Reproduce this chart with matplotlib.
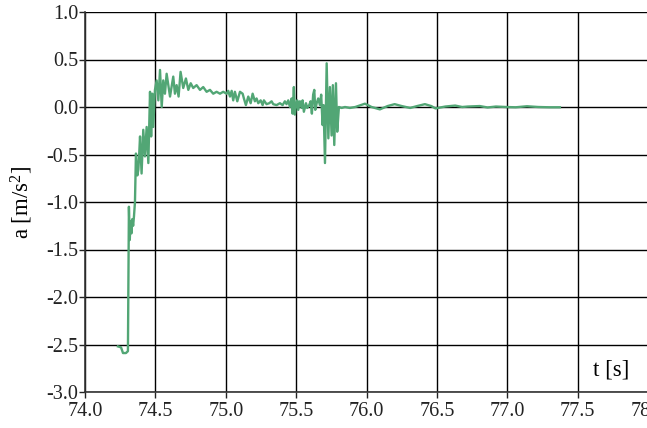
import matplotlib
matplotlib.use("Agg")
from matplotlib import pyplot as plt

# acceleration trace
t = [74.234, 74.256, 74.270, 74.291, 74.305, 74.312, 74.318, 74.324, 74.330, 74.336,
     74.342, 74.348, 74.355, 74.362, 74.372, 74.379, 74.385, 74.391, 74.402, 74.414,
     74.426, 74.438, 74.450, 74.462, 74.470, 74.478, 74.485, 74.497, 74.509, 74.521,
     74.533, 74.545, 74.556, 74.568, 74.580, 74.604, 74.627, 74.639, 74.651, 74.665,
     74.679, 74.698, 74.717, 74.734, 74.751, 74.769, 74.793, 74.817, 74.840, 74.864,
     74.888, 74.911, 74.935, 74.959, 74.982, 75.006, 75.018, 75.030, 75.042, 75.053,
     75.065, 75.082, 75.101, 75.120, 75.129, 75.143, 75.160, 75.177, 75.191, 75.207,
     75.219, 75.231, 75.248, 75.262, 75.271, 75.290, 75.309, 75.326, 75.337, 75.361,
     75.385, 75.404, 75.420, 75.432, 75.444, 75.456, 75.468, 75.475, 75.484, 75.491,
     75.499, 75.508, 75.515, 75.527, 75.539, 75.546, 75.555, 75.570, 75.579, 75.593,
     75.603, 75.612, 75.621, 75.629, 75.636, 75.646, 75.657, 75.669, 75.678, 75.688,
     75.695, 75.705, 75.717, 75.729, 75.740, 75.752, 75.761, 75.771, 75.783, 75.792,
     75.804, 75.823, 75.847, 75.882, 75.920, 75.960, 75.989, 76.036, 76.095, 76.150,
     76.200, 76.250, 76.310, 76.360, 76.415, 76.460, 76.490, 76.560, 76.630, 76.680,
     76.720, 76.805, 76.860, 76.920, 76.990, 77.060, 77.140, 77.220, 77.300, 77.374]
a = [-2.52, -2.53, -2.59, -2.59, -2.57, -1.05, -1.40, -1.20, -1.33, -1.18,
     -1.25, -1.15, -1.00, -0.49, -0.72, -0.66, -0.50, -0.31, -0.70, -0.24,
     -0.52, -0.21, -0.59, 0.16, -0.31, 0.14, -0.21, 0.18, 0.28, 0.07,
     0.39, 0.00, 0.28, 0.14, 0.35, 0.11, 0.32, 0.14, 0.23, 0.11,
     0.37, 0.20, 0.30, 0.18, 0.25, 0.20, 0.23, 0.18, 0.21, 0.16,
     0.18, 0.14, 0.16, 0.14, 0.16, 0.14, 0.17, 0.11, 0.17, 0.07,
     0.16, 0.06, 0.16, 0.14, 0.09, 0.02, 0.11, 0.04, 0.14, 0.06,
     0.09, 0.04, 0.07, 0.02, 0.07, 0.03, 0.04, 0.06, 0.03, 0.02,
     0.04, 0.02, 0.06, 0.03, 0.07, 0.00, 0.09, -0.07, 0.21, -0.08,
     0.02, 0.07, -0.03, 0.06, -0.01, 0.07, -0.05, 0.04, -0.01, 0.02,
     0.06, -0.07, 0.13, 0.18, -0.03, 0.04, 0.09, 0.02, 0.13, -0.19,
     0.02, -0.59, 0.46, -0.33, 0.21, -0.30, 0.23, -0.40, 0.25, -0.26,
     0.00, -0.01, 0.00, -0.01, 0.00, 0.02, 0.035, 0.00, -0.025, 0.01,
     0.03, 0.01, -0.01, 0.01, 0.03, 0.01, -0.015, 0.005, 0.015, 0.00,
     0.005, 0.01, -0.005, 0.005, 0.00, -0.003, 0.008, 0.00, -0.003, -0.003]

x_ticks = [74.0, 74.5, 75.0, 75.5, 76.0, 76.5, 77.0, 77.5, 78.0]
y_ticks = [1.0, 0.5, 0.0, -0.5, -1.0, -1.5, -2.0, -2.5, -3.0]

plt.rcParams['font.family'] = ['Liberation Serif', 'DejaVu Serif']
plt.rcParams['mathtext.fontset'] = 'custom'
plt.rcParams['mathtext.rm'] = 'Liberation Serif'
plt.rcParams['mathtext.it'] = 'Liberation Serif:italic'
plt.rcParams['axes.unicode_minus'] = False

fig = plt.figure(figsize=(6.47, 4.28), dpi=100)
ax = fig.add_axes([85/647, 36/428, 563/647, 380/428])

ax.plot(t, a, color="#52a675", lw=1.7, zorder=3)

ax.set_xlim(74.0, 78.0)
ax.set_ylim(-3.0, 1.0)
ax.set_xticks(x_ticks)
ax.set_xticklabels(["{:.1f}".format(v) for v in x_ticks])
ax.set_yticks(y_ticks)
ax.set_yticklabels(["{:.1f}".format(v) for v in y_ticks])

ax.grid(True, color="black", lw=1.0)
ax.set_axisbelow(True)
for side in ["top", "right"]:
    ax.spines[side].set_visible(False)
for side in ["left", "bottom"]:
    ax.spines[side].set_color("#333333")
    ax.spines[side].set_linewidth(1.2)
ax.tick_params(direction="out", length=4, width=1, labelsize=14.5, pad=1, colors="#222222")
ax.tick_params(axis="x", pad=3)

ax.set_ylabel("a [m/s$^2$]", fontsize=16.5, labelpad=8)
ax.text(0.934, 0.058, "t [s]", transform=ax.transAxes, ha="center", va="center", fontsize=16.5)

fig.savefig("out.png", dpi=100)
